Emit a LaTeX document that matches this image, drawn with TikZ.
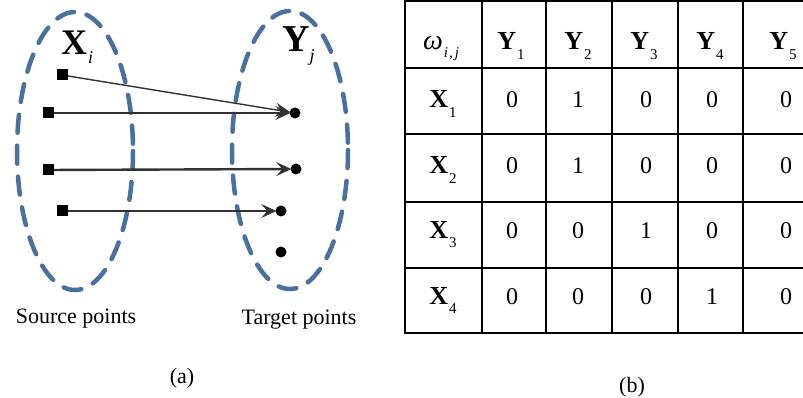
\documentclass[tikz,border=0pt]{standalone}
\usepackage{fontspec}
\setmainfont{Liberation Serif}
\usetikzlibrary{arrows.meta,shapes.geometric}

\definecolor{setblue}{RGB}{72,112,160}
\definecolor{linkgray}{RGB}{50,50,50}

\tikzset{
  setring/.style={draw=setblue, line width=4.5pt, dash pattern=on 18pt off 13pt, line cap=round},
  srcpt/.style={rectangle, fill=black, inner sep=0pt, minimum size=11pt},
  tgtpt/.style={circle, fill=black, inner sep=0pt, minimum size=11pt},
  link/.style={draw=linkgray, -{Stealth[length=15pt,width=14pt,inset=6pt]}, shorten >=-1pt},
  caption/.style={font=\fontsize{22}{24}\selectfont, anchor=base, inner sep=0pt},
  grid/.style={line width=2pt, black},
  cell/.style={font=\fontsize{24}{26}\selectfont, anchor=base, inner sep=0pt}
}

\newcommand{\bsub}[2]{{\fontsize{26}{26}\selectfont\textbf{#1}}\kern1pt\raisebox{-0.38em}{\fontsize{15}{15}\selectfont #2}}

\begin{document}
\begin{tikzpicture}[x=1pt,y=-1pt]
\useasboundingbox (0,0) rectangle (803,398);

% ---- (a) source and target sets ----
\draw[setring] (75,151) ellipse [x radius=58, y radius=139];
\draw[setring] (290,150) ellipse [x radius=58, y radius=139];

\node[anchor=base west, inner sep=0pt, font=\fontsize{36}{38}\selectfont] (xlab) at (61,55)
  {\textbf{X}\kern1pt\raisebox{-0.25em}{\fontsize{18}{18}\selectfont\itshape i}};
\node[anchor=base west, inner sep=0pt, font=\fontsize{38}{40}\selectfont] (ylab) at (282,52)
  {\textbf{Y}\kern0pt\raisebox{-0.25em}{\fontsize{18}{18}\selectfont\itshape j}};

\node[srcpt] (s1) at (62,75) {};
\node[srcpt] (s2) at (48,113) {};
\node[srcpt] (s3) at (48,170) {};
\node[srcpt] (s4) at (62,211) {};

\node[tgtpt] (t1) at (295,113) {};
\node[tgtpt] (t2) at (296,169) {};
\node[tgtpt] (t3) at (281,211) {};
\node[tgtpt] (t4) at (281,252) {};

\draw[link, line width=1.4pt] (s1) -- (t1);
\draw[link, line width=1.4pt] (s2) -- (t1);
\draw[link, line width=2.4pt] (s3) -- (t2);
\draw[link, line width=1.6pt] (s4) -- (t3);

\node[caption] (src) at (76,323) {Source points};
\node[caption] (tgt) at (299,324) {Target points};
\node[caption] (capa) at (182,383) {(a)};

% ---- (b) assignment table ----
\foreach \y in {1,68,134,202,268,333}
  \draw[grid] (405,\y) -- (806,\y);
\foreach \x in {405,482,546,612,678,743}
  \draw[grid] (\x,0) -- (\x,334);

\node[cell] (h0) at (441,50) {{\fontsize{28}{28}\selectfont\itshape ω}\kern1pt\raisebox{-0.3em}{\fontsize{15}{15}\selectfont\itshape i\kern1pt,\kern2pt j}};
\node[cell] (h1) at (511,50) {\bsub{Y}{1}};
\node[cell] (h2) at (578,50) {\bsub{Y}{2}};
\node[cell] (h3) at (644,50) {\bsub{Y}{3}};
\node[cell] (h4) at (710,50) {\bsub{Y}{4}};
\node[cell] (h5) at (783,50) {\bsub{Y}{5}};

\node[cell] (r1) at (443,108) {\bsub{X}{1}};
\node[cell] (r2) at (443,174) {\bsub{X}{2}};
\node[cell] (r3) at (443,238) {\bsub{X}{3}};
\node[cell] (r4) at (443,304) {\bsub{X}{4}};

\foreach \row/\yy/\a/\b/\c/\d/\e in {1/108/0/1/0/0/0, 2/174/0/1/0/0/0, 3/238/0/0/1/0/0, 4/304/0/0/0/1/0}{
  \node[cell] (c\row-1) at (512,\yy) {\a};
  \node[cell] (c\row-2) at (578,\yy) {\b};
  \node[cell] (c\row-3) at (646,\yy) {\c};
  \node[cell] (c\row-4) at (712,\yy) {\d};
  \node[cell] (c\row-5) at (786,\yy) {\e};
}

\node[caption] (capb) at (632,392) {(b)};
\end{tikzpicture}
\end{document}
